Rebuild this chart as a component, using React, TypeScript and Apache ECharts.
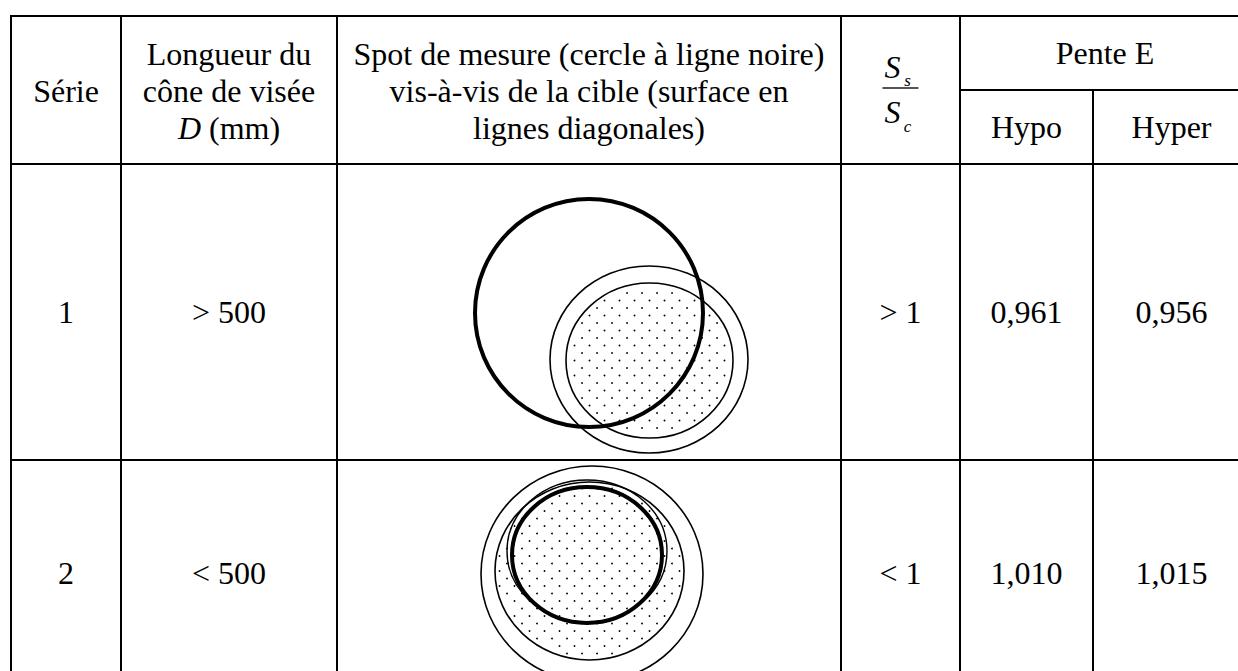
import * as echarts from 'echarts';
import { useEffect, useRef } from 'react';

const seriesIds = ['1', '2'];
const coneLengths = ['> 500', '< 500'];
const areaRatios = ['> 1', '< 1'];
const slopeHypo = ['0,961', '1,010'];
const slopeHyper = ['0,956', '1,015'];
const headerLongueur = ['Longueur du', 'cône de visée'];
const headerSpot = ['Spot de mesure (cercle à ligne noire)', 'vis-à-vis de la cible (surface en', 'lignes diagonales)'];

const FONT = 'Liberation Serif';
const FS = 32;

function txt(text: string, x: number, y: number, extra: any = {}) {
  return {
    type: 'text',
    x,
    y,
    silent: true,
    style: {
      text,
      fill: '#000',
      fontFamily: FONT,
      fontSize: FS,
      align: 'center',
      verticalAlign: 'middle',
      textAlign: 'center',
      textVerticalAlign: 'middle',
      ...extra,
    },
  };
}

function line(x1: number, y1: number, x2: number, y2: number, w = 2, c = '#000') {
  return { type: 'line', silent: true, shape: { x1, y1, x2, y2 }, style: { stroke: c, lineWidth: w } };
}

function ell(cx: number, cy: number, rx: number, ry: number, w: number) {
  return { type: 'ellipse', silent: true, shape: { cx, cy, rx, ry }, style: { fill: 'none', stroke: '#000', lineWidth: w } };
}

// dotted texture inside an ellipse (decorative pattern)
function dots(cx: number, cy: number, rx: number, ry: number) {
  const out: any[] = [];
  const step = 7.5;
  for (let j = -30; j <= 30; j++) {
    const y = cy + j * step;
    const off = (Math.abs(j) % 2) * step;
    for (let i = -20; i <= 20; i++) {
      const x = cx + off + i * 2 * step;
      const dx = (x - cx) / (rx - 3);
      const dy = (y - cy) / (ry - 3);
      if (dx * dx + dy * dy <= 1) {
        out.push({ type: 'circle', silent: true, shape: { cx: x, cy: y, r: 0.9 }, style: { fill: '#000' } });
      }
    }
  }
  return out;
}

export default function App() {
  const ref = useRef<HTMLDivElement>(null);
  useEffect(() => {
    const chart = echarts.init(ref.current as HTMLDivElement, null, { renderer: 'svg' });
    const W = 1238;
    const H = 671;
    const cols = [11, 121, 337, 841, 960, 1093];
    const els: any[] = [];

    // grid
    els.push(line(10, 16, W, 16));
    els.push(line(960, 90, W, 90));
    els.push(line(10, 164, W, 164));
    els.push(line(10, 460, W, 460));
    cols.forEach((x, i) => {
      els.push(line(x, i === 5 ? 90 : 15, x, H));
    });

    // headers
    els.push(txt('Série', (cols[0] + cols[1]) / 2, 91));
    const cL = (cols[1] + cols[2]) / 2;
    els.push(txt(headerLongueur[0], cL, 54));
    els.push(txt(headerLongueur[1], cL, 91));
    els.push(
      txt('{i|D} (mm)', cL, 128, {
        rich: { i: { fontStyle: 'italic', fontFamily: FONT, fontSize: FS } },
      })
    );
    const cS = (cols[2] + cols[3]) / 2;
    headerSpot.forEach((s, k) => els.push(txt(s, cS, 54 + k * 37)));
    const cF = (cols[3] + cols[4]) / 2;
    els.push(txt('S', cF - 8, 67, { fontStyle: 'italic' }));
    els.push(txt('s', cF + 7, 80, { fontStyle: 'italic', fontSize: 17 }));
    els.push(line(cF - 18, 88, cF + 18, 88, 2, '#555'));
    els.push(txt('S', cF - 8, 112, { fontStyle: 'italic' }));
    els.push(txt('c', cF + 7, 126, { fontStyle: 'italic', fontSize: 17 }));
    els.push(txt('Pente E', (cols[4] + 1250) / 2, 53));
    const cHypo = (cols[4] + cols[5]) / 2;
    const cHyper = (cols[5] + 1250) / 2;
    els.push(txt('Hypo', cHypo, 127));
    els.push(txt('Hyper', cHyper, 127));

    // data rows
    const rowCenters = [312, 573];
    seriesIds.forEach((id, r) => {
      const y = rowCenters[r];
      els.push(txt(id, (cols[0] + cols[1]) / 2, y));
      els.push(txt(coneLengths[r], cL, y));
      els.push(txt(areaRatios[r], cF, y));
      els.push(txt(slopeHypo[r], cHypo, y));
      els.push(txt(slopeHyper[r], cHyper, y));
    });

    // row 1 drawing
    els.push(...dots(649.5, 360.5, 83.5, 77.5));
    els.push(ell(649, 359.5, 99, 93.5, 1.6));
    els.push(ell(649.5, 360.5, 83.5, 77.5, 1.6));
    els.push(ell(589, 313, 114, 114, 4));

    // row 2 drawing
    els.push(...dots(589.5, 571, 94.5, 89));
    els.push(ell(592, 574, 111, 108, 1.6));
    els.push(ell(589.5, 571, 94.5, 89, 1.6));
    els.push(ell(587, 551, 80, 71, 1.4));
    els.push(ell(587, 555, 75, 68, 4));

    chart.setOption({ animation: false, backgroundColor: '#fff', graphic: { elements: els } });
    return () => chart.dispose();
  }, []);
  return (
    <div
      ref={ref}
      style={{ position: 'absolute', left: 0, top: 0, width: 1238, height: 671, background: '#fff' }}
    />
  );
}
